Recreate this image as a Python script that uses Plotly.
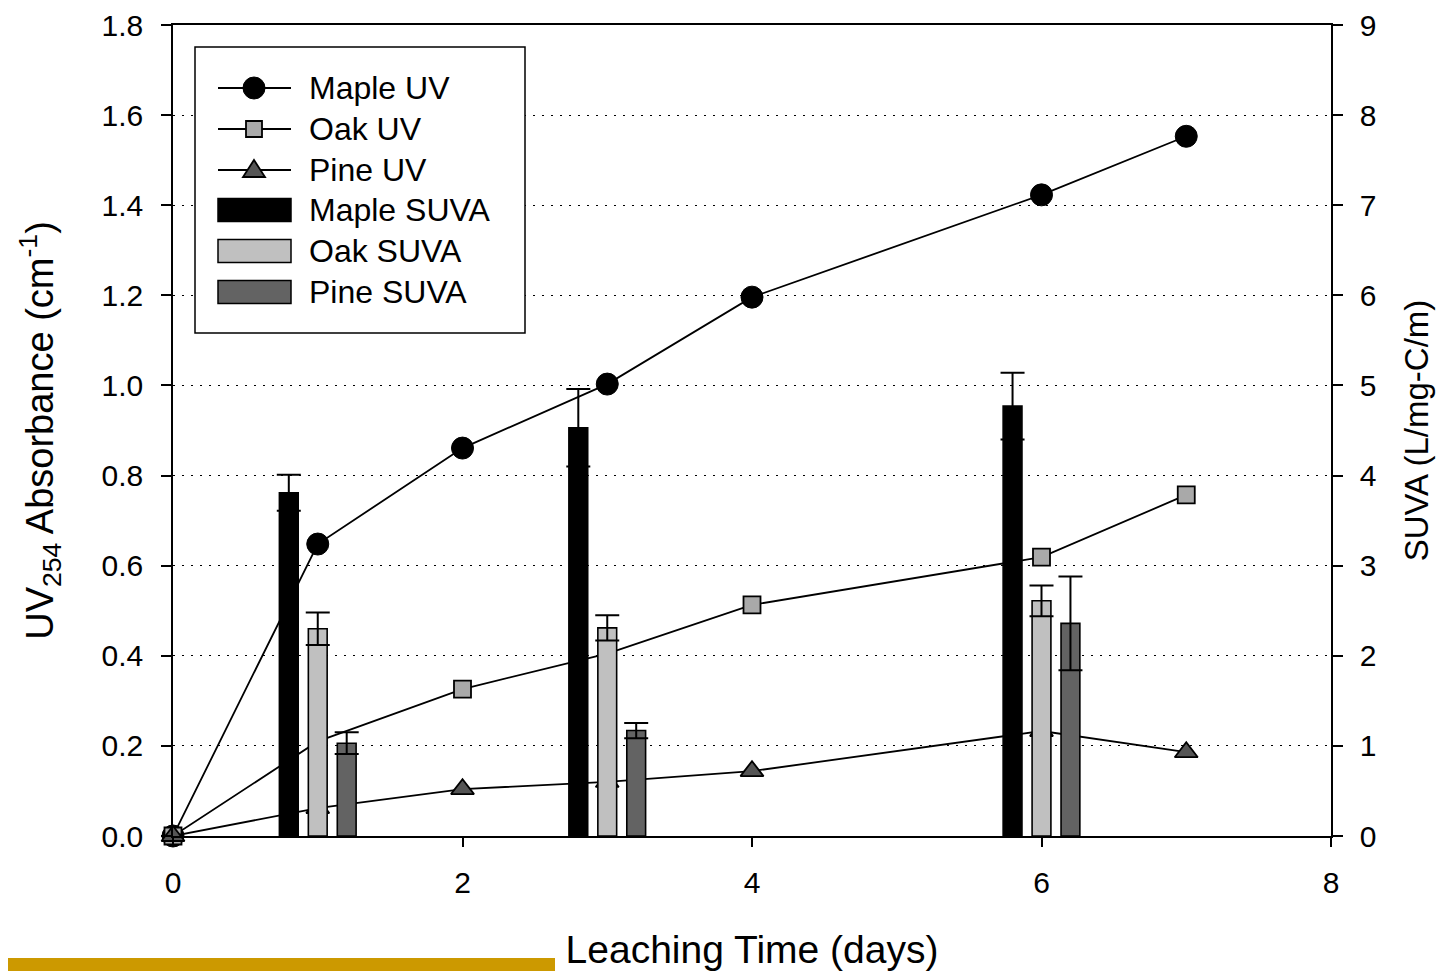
import plotly.graph_objects as go

# ---------------- data ----------------
days_uv = [0, 1, 2, 3, 4, 6, 7]
maple_uv = [0.0, 0.648, 0.861, 1.003, 1.196, 1.423, 1.553]
oak_uv = [0.0, 0.21, 0.326, 0.405, 0.513, 0.619, 0.757]
pine_uv = [0.0, 0.062, 0.104, 0.12, 0.144, 0.233, 0.186]

suva_days = [1, 3, 6]
maple_suva = [3.81, 4.53, 4.77]
maple_suva_err = [0.20, 0.43, 0.37]
oak_suva = [2.30, 2.31, 2.61]
oak_suva_err = [0.18, 0.14, 0.17]
pine_suva = [1.03, 1.17, 2.36]
pine_suva_err = [0.12, 0.085, 0.52]

legend_labels = ["Maple UV", "Oak UV", "Pine UV", "Maple SUVA", "Oak SUVA", "Pine SUVA"]

# ---------------- layout constants ----------------
OFF = 8                      # default page body margin
PAGE_W, PAGE_H = 1444, 971
W, H = PAGE_W - OFF, PAGE_H - OFF
PL, PR, PT, PB = 173, 1331, 25, 836   # plot area in page pixels
FONT = "Liberation Sans, Arial, sans-serif"

C_OAK_UV = "#a9a9a9"
C_PINE_UV = "#555555"
C_OAK_SUVA = "#c0c0c0"
C_PINE_SUVA = "#636363"
GOLD = "#cc9900"


def px(x):
    return (x - PL) / (PR - PL)


def py(y):
    return (PB - y) / (PB - PT)


fig = go.Figure()

line_style = dict(color="black", width=1.8)
fig.add_trace(go.Scatter(x=days_uv, y=maple_uv, mode="lines+markers", name="Maple UV",
                         line=line_style, cliponaxis=False,
                         marker=dict(symbol="circle", size=22, color="black",
                                     line=dict(color="black", width=1))))
fig.add_trace(go.Scatter(x=days_uv, y=oak_uv, mode="lines+markers", name="Oak UV",
                         line=line_style, cliponaxis=False,
                         marker=dict(symbol="square", size=17, color=C_OAK_UV,
                                     line=dict(color="black", width=1.8))))
fig.add_trace(go.Scatter(x=days_uv, y=pine_uv, mode="lines+markers", name="Pine UV",
                         line=line_style, cliponaxis=False,
                         marker=dict(symbol="triangle-up", size=20, color=C_PINE_UV,
                                     line=dict(color="black", width=1.8))))

bar_w = 0.13
for vals, errs, col, off, name in [
    (maple_suva, maple_suva_err, "black", -0.2, "Maple SUVA"),
    (oak_suva, oak_suva_err, C_OAK_SUVA, 0.0, "Oak SUVA"),
    (pine_suva, pine_suva_err, C_PINE_SUVA, 0.2, "Pine SUVA"),
]:
    fig.add_trace(go.Bar(x=suva_days, y=vals, yaxis="y2", name=name,
                         width=bar_w, offset=off - bar_w / 2,
                         marker=dict(color=col, line=dict(color="black", width=1.6)),
                         error_y=dict(type="data", array=errs, visible=True,
                                      color="black", thickness=2, width=12)))

# ---------------- manual legend ----------------
shapes = []
annotations = []
shapes.append(dict(type="rect", xref="paper", yref="paper",
                   x0=px(195), x1=px(525), y0=py(333), y1=py(47),
                   line=dict(color="black", width=1.5), fillcolor="white", layer="above"))
rows = [88, 129, 170, 210, 251, 292]
gx0, gx1, gxc = 218, 291, 254
for i, (ry, lab) in enumerate(zip(rows, legend_labels)):
    if i < 3:
        shapes.append(dict(type="line", xref="paper", yref="paper",
                           x0=px(gx0), x1=px(gx1), y0=py(ry), y1=py(ry),
                           line=dict(color="black", width=1.8), layer="above"))
    if i == 0:
        r = 11
        shapes.append(dict(type="circle", xref="paper", yref="paper",
                           x0=px(gxc - r), x1=px(gxc + r), y0=py(ry + r), y1=py(ry - r),
                           line=dict(color="black", width=1), fillcolor="black", layer="above"))
    elif i == 1:
        s = 8
        shapes.append(dict(type="rect", xref="paper", yref="paper",
                           x0=px(gxc - s), x1=px(gxc + s), y0=py(ry + s), y1=py(ry - s),
                           line=dict(color="black", width=1.8), fillcolor=C_OAK_UV, layer="above"))
    elif i == 2:
        path = "M {:.5f} {:.5f} L {:.5f} {:.5f} L {:.5f} {:.5f} Z".format(
            px(gxc), py(ry - 10), px(gxc + 11), py(ry + 7), px(gxc - 11), py(ry + 7))
        shapes.append(dict(type="path", xref="paper", yref="paper", path=path,
                           line=dict(color="black", width=1.8), fillcolor=C_PINE_UV, layer="above"))
    else:
        col = ["black", C_OAK_SUVA, C_PINE_SUVA][i - 3]
        shapes.append(dict(type="rect", xref="paper", yref="paper",
                           x0=px(gx0), x1=px(gx1), y0=py(ry + 11.5), y1=py(ry - 11.5),
                           line=dict(color="black", width=1.5), fillcolor=col, layer="above"))
    annotations.append(dict(xref="paper", yref="paper", x=px(307), y=py(ry),
                            xanchor="left", yanchor="middle", showarrow=False,
                            text=lab, font=dict(size=32, family=FONT, color="black")))

# gold decorative bar at bottom-left
shapes.append(dict(type="rect", xref="paper", yref="paper",
                   x0=px(0), x1=px(555), y0=py(975), y1=py(958),
                   line=dict(width=0), fillcolor=GOLD, layer="above"))

axis_common = dict(showline=True, linecolor="black", linewidth=1.5, ticks="outside",
                   tickcolor="black", tickwidth=1.5, zeroline=False, automargin=False,
                   tickfont=dict(size=30, family=FONT, color="black"))

fig.update_layout(
    width=W, height=H,
    margin=dict(l=PL - OFF, r=PAGE_W - PR, t=PT - OFF, b=PAGE_H - PB, pad=0,
                autoexpand=False),
    paper_bgcolor="white", plot_bgcolor="white",
    showlegend=False, barmode="overlay",
    font=dict(family=FONT, color="black"),
    xaxis=dict(range=[0, 8], dtick=2, tick0=0, ticklen=9, mirror=True, showgrid=False,
               ticklabelstandoff=10,
               title=dict(text="Leaching Time (days)", standoff=38,
                          font=dict(size=39, family=FONT, color="black")),
               **axis_common),
    yaxis=dict(range=[0, 1.8], dtick=0.2, tick0=0, tickformat=".1f", ticklen=10,
               showgrid=True, gridcolor="black", gridwidth=1, griddash="2px,7px",
               ticklabelstandoff=12,
               title=dict(text="UV<sub>254</sub> Absorbance (cm<sup>-1</sup>)", standoff=36,
                          font=dict(size=38, family=FONT, color="black")),
               **axis_common),
    yaxis2=dict(range=[0, 9], dtick=1, tick0=0, ticklen=10, overlaying="y", side="right",
                showgrid=False, ticklabelstandoff=11,
                title=dict(text="SUVA (L/mg-C/m)", standoff=29,
                           font=dict(size=33, family=FONT, color="black")),
                **axis_common),
    shapes=shapes, annotations=annotations,
)

fig.write_html("out.html")
